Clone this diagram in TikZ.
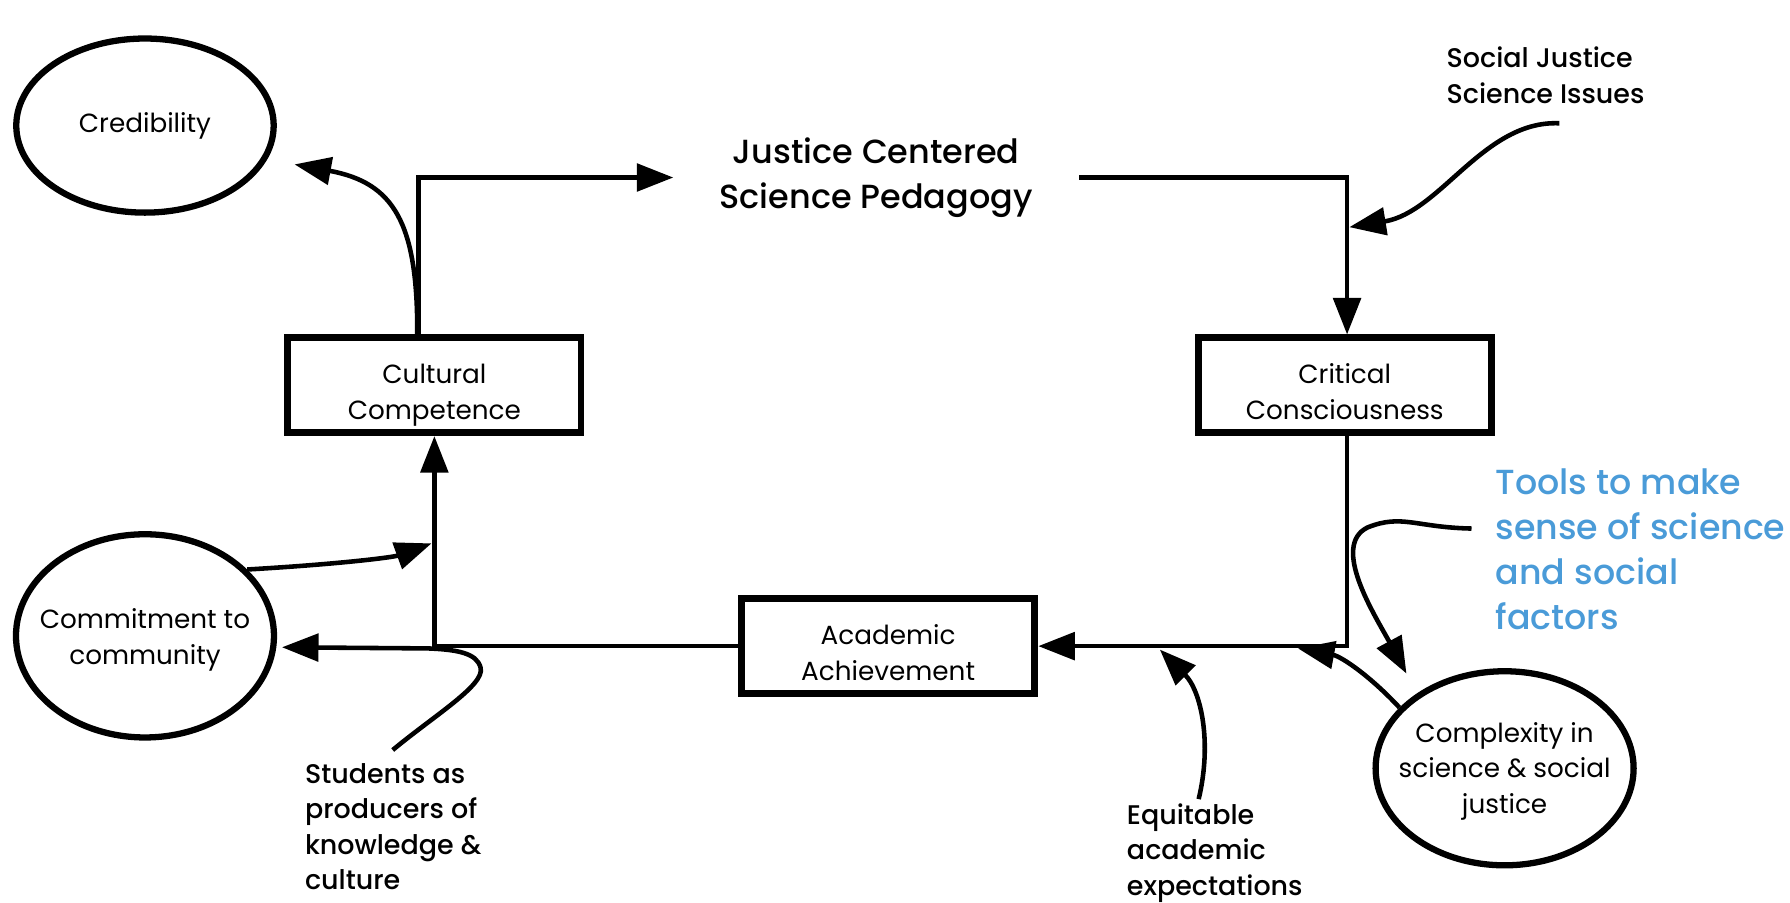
\documentclass[tikz,border=0pt]{standalone}
\usepackage{fontspec}
\setmainfont{Poppins}
\newfontfamily\medfont{Poppins Medium}
\usetikzlibrary{arrows.meta,shapes.geometric}
\definecolor{toolblue}{HTML}{4A9BD8}
\begin{document}
\begin{tikzpicture}[x=1pt,y=-1pt,
  box/.style={draw,line width=6pt,minimum width=257pt,minimum height=83pt,inner sep=0pt},
  oval/.style={draw,ellipse,line width=5.5pt,inner sep=0pt},
  label text/.style={align=center,font=\fontsize{23}{31}\selectfont,inner sep=0pt},
  note/.style={align=left,anchor=west,inner sep=0pt,font=\medfont\fontsize{23.6}{31}\selectfont},
  conn/.style={line width=4pt,line join=miter},
  tip/.style={-{Triangle[length=32pt,width=24pt]}}]
\useasboundingbox (0,0) rectangle (1568,791);

% boxes and their labels (struts keep the line positions equal)
\node[box] (cult) at (380.5,337.5) {};
\node[label text] (cultt) at (380.5,345.6) {\strut Cultural\\\strut Competence};
\node[box] (crit) at (1178,337.5) {};
\node[label text] (critt) at (1178,345.6) {\strut Critical\\\strut Consciousness};
\node[box] (acad) at (778,566) {};
\node[label text] (acadt) at (778,574.3) {\strut Academic\\\strut Achievement};

% ellipses and their labels
\node[oval,minimum width=225.5pt,minimum height=152.5pt] (cred) at (127,110) {};
\node[label text] (credt) at (127,110) {\strut Credibility};
\node[oval,minimum width=226pt,minimum height=178pt] (comm) at (127,557) {};
\node[label text] (commt) at (127,560) {\strut Commitment to\\\strut community};
\node[oval,minimum width=226pt,minimum height=170pt] (cplx) at (1318,673) {};
\node[label text] (cplxt) at (1318,675.3) {\strut Complexity in\\\strut science \& social\\\strut justice};

% central title
\node[minimum width=355pt,inner sep=0pt,align=center,
  font=\medfont\fontsize{29.3}{39}\selectfont] (jcsp) at (767.5,155.5)
  {Justice Centered\\Science Pedagogy};

% side notes
\node[note] (sjsi) at (1267,66) {Social Justice\\Science Issues};
\node[note] (stud) at (267,724) {Students as\\producers of\\knowledge \&\\culture};
\node[note] (equi) at (987,747) {Equitable\\academic\\expectations};
\node[note,text=toolblue,font=\medfont\fontsize{30.5}{39.5}\selectfont] (tool) at (1310,481)
  {Tools to make\\sense of science\\and social\\factors};

% free ends of the curved connectors
\coordinate (credin) at (258,144);
\coordinate (j1) at (378,476);
\coordinate (sst) at (344,657);
\coordinate (commin) at (247,567);
\coordinate (eqs) at (1050,700);
\coordinate (eqin) at (1016,569);
\coordinate (cxin) at (1137,568);
\coordinate (tst) at (1289,463);
\coordinate (tin) at (1232,590);
\coordinate (sjs) at (1366,108);
\coordinate (sjin) at (1182,199);

% main cycle
\draw[conn,tip] ([xshift=-14pt]cult.north) |- (jcsp.west);
\draw[conn,tip] (jcsp.east) -| ([xshift=2pt]crit.north);
\draw[conn,tip] ([xshift=2pt]crit.south) |- (acad.east);
\draw[conn,tip] (acad.west) -| (cult.south);

% curved influences
\draw[conn,tip] ([xshift=-15pt]cult.north) .. controls (366,195) and (345,160) .. (credin);
\draw[conn,tip] (comm.33) .. controls (300,494) and (345,488) .. (j1);
\draw[conn,tip] (sst) .. controls (380,627) and (425,600) .. (421,585)
  .. controls (418,572) and (400,569) .. (375,568) -- (commin);
\draw[conn,tip] (eqs) .. controls (1062,650) and (1052,605) .. (eqin);
\draw[conn,tip] (cplx.150) .. controls (1200,592) and (1175,575) .. (cxin);
\draw[conn,tip] (tst) .. controls (1240,462) and (1228,450) .. (1198,462)
  .. controls (1165,478) and (1205,540) .. (tin);
\draw[conn,tip] (sjs) .. controls (1300,105) and (1262,186) .. (sjin);
\end{tikzpicture}
\end{document}
